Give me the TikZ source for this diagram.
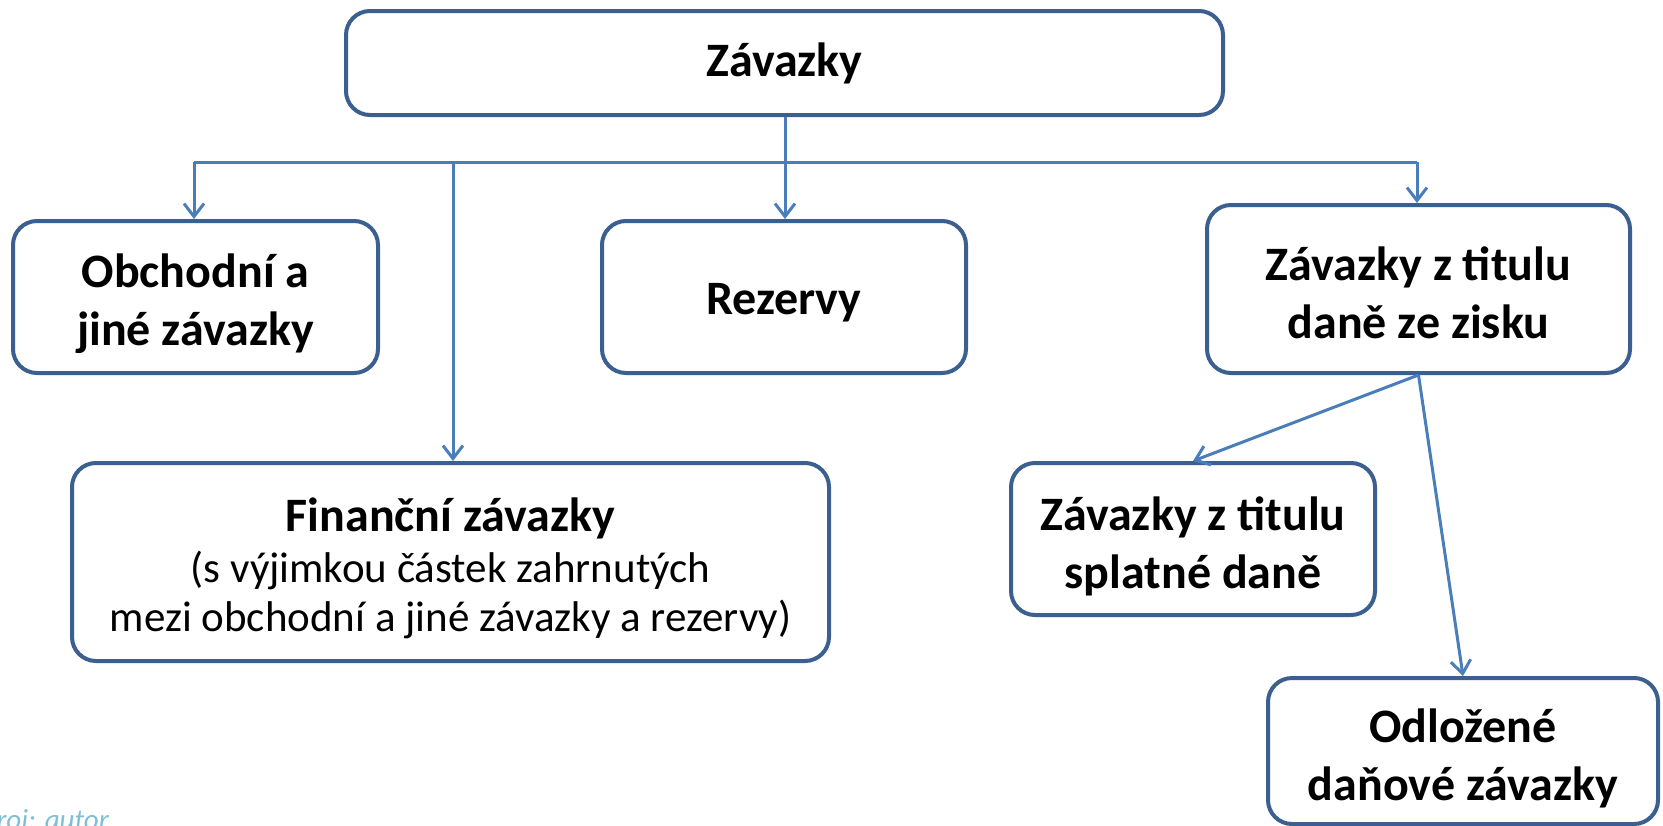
\documentclass[tikz,border=0pt]{standalone}
\usepackage{fontspec}
\setmainfont{Carlito}
\usetikzlibrary{arrows.meta}
\definecolor{boxborder}{RGB}{59,95,143}
\definecolor{arrowblue}{RGB}{74,126,187}
\definecolor{srccol}{RGB}{125,192,214}
\newcommand{\subfnt}{\fontsize{43}{49}\selectfont\mdseries}
\tikzset{
  box/.style={draw=boxborder, line width=4pt, rounded corners=24pt, fill=white, inner sep=0pt},
  txt/.style={align=center, inner sep=0pt, font=\fontsize{48}{58}\selectfont\bfseries},
  conn/.style={draw=arrowblue, line width=3pt},
  arr/.style={conn, -{Straight Barb[length=13pt,width=20pt,line width=3pt]}}
}
\begin{document}
\begin{tikzpicture}[x=1pt,y=-1pt]
\useasboundingbox (0,0) rectangle (1663,825);
\clip (0,0) rectangle (1663,825);
% boxes
\node[box, minimum width=877pt, minimum height=104pt] (top) at (784.5,63) {};
\node[box, minimum width=365pt, minimum height=152pt] (obch) at (195.5,297) {};
\node[box, minimum width=364pt, minimum height=152pt] (rez) at (784,297) {};
\node[box, minimum width=423pt, minimum height=168pt] (zisk) at (1418.5,289) {};
\node[box, minimum width=757pt, minimum height=198pt] (fin) at (450.5,562) {};
\node[box, minimum width=364pt, minimum height=152pt] (spl) at (1193,539) {};
\node[box, minimum width=390pt, minimum height=146pt] (odl) at (1463,751) {};
% texts
\node[txt] (topt) at (784.5,63) {Závazky};
\node[txt] (obcht) at (195.5,304) {Obchodní a\\jiné závazky};
\node[txt] (rezt) at (784,303) {Rezervy};
\node[txt] (ziskt) at (1418.5,293) {Závazky z titulu\\daně ze zisku};
\node[txt] (fint) at (450.5,568)
  {Finanční závazky\\[-7pt]\subfnt (s výjimkou částek zahrnutých\\[-9pt]\subfnt mezi obchodní a jiné závazky a rezervy)};
\node[txt] (splt) at (1193,546) {Závazky z titulu\\splatné daně};
\node[txt] (odlt) at (1463,758) {Odložené\\daňové závazky};
% junctions
\coordinate (j) at (785,162);
\coordinate (jl) at (194,162);
\coordinate (jr) at (1417,162);
\coordinate (jf) at (453,162);
% connectors
\draw[conn] (top.south -| j) -- (j);
\draw[conn] (jl) -- (jr);
\draw[arr] (jl) -- (jl |- obch.north);
\draw[arr] (j) -- (j |- rez.north);
\draw[arr] (jr) -- (jr |- zisk.north);
\draw[arr] (jf) -- (jf |- fin.north);
\draw[arr] (zisk.south) -- (spl.north);
\draw[arr] (zisk.south) -- (odl.north);
% source
\node[anchor=base east, inner sep=0pt, text=srccol, font=\fontsize{29}{34}\selectfont\itshape] (src) at (109,829) {Zdroj: autor};
\end{tikzpicture}
\end{document}
